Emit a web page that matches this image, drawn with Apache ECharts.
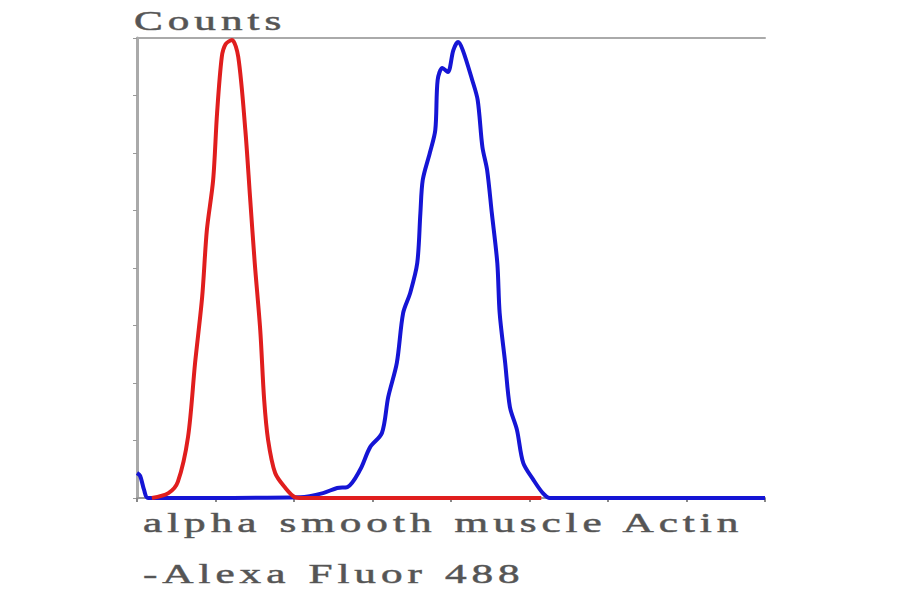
<!DOCTYPE html>
<html>
<head>
<meta charset="utf-8">
<script src="https://cdn.jsdelivr.net/npm/echarts@6/dist/echarts.min.js"></script>
<style>
  html, body { margin: 0; padding: 0; background: #fff; }
  #chart { width: 900px; height: 594px; }
  #chart text { letter-spacing: 3.1px; word-spacing: 1.5px; }
</style>
</head>
<body>
<div id="chart"></div>
<script>
// 直方图：红=对照，蓝=alpha SMA，x 为荧光通道 (0..8)，y 为计数
const xTicks = [0, 1, 2, 3, 4, 5, 6, 7, 8];
const yTitle = "Counts";
const xTitle1 = "alpha smooth muscle Actin";
const xTitle2 = "-Alexa Fluor 488";

const redX = [0.19, 0.40, 0.52, 0.65, 0.74, 0.83, 0.89, 0.97, 1.02, 1.08, 1.13, 1.21, 1.29, 1.38, 1.44, 1.50, 1.57, 1.62, 1.67, 1.76, 1.89, 2.01, 2.10, 5.15];
const redY = [0, 1.7, 5.6, 21.2, 47.0, 69.9, 93.2, 110.6, 133.9, 153.4, 157.9, 159.3, 153.4, 128.0, 104.7, 81.7, 58.4, 34.1, 20.2, 8.7, 3.5, 0.3, 0, 0];

const blueX = [0, 0.04, 0.09, 0.14, 2.08, 2.37, 2.55, 2.68, 2.84, 2.97, 3.12, 3.20, 3.31, 3.39, 3.48, 3.57, 3.61, 3.64, 3.73, 3.80, 3.83, 3.89, 3.96, 4.03, 4.09, 4.15, 4.27, 4.34, 4.40, 4.46, 4.52, 4.59, 4.62, 4.69, 4.75, 4.84, 4.92, 5.05, 5.17, 5.26, 8];
const blueY = [8.7, 7.7, 2.8, 0, 0.3, 1.7, 3.5, 3.8, 9.7, 17.7, 22.6, 35.1, 47.0, 64.3, 71.3, 81.7, 99.1, 110.6, 120.0, 128.0, 145.4, 149.6, 148.2, 155.8, 158.6, 155.8, 145.4, 138.4, 122.1, 114.1, 99.1, 81.7, 64.3, 47.0, 31.7, 23.7, 12.2, 6.3, 1.7, 0, 0];

const zip = (xs, ys) => xs.map((x, i) => [x, ys[i]]);

const chart = echarts.init(document.getElementById("chart"), null, { renderer: "svg" });
const font = '27px "Liberation Serif", serif';
const txt = (t, x, y) => ({
  type: "text", x: x, y: y, scaleX: 1.6,
  style: { text: t, font: font, fill: "#555", stroke: "#777", lineWidth: 0.6, verticalAlign: "middle" }
});

chart.setOption({
  animation: false,
  grid: { left: 137, right: 135, top: 38, bottom: 96 },
  xAxis: [{
    type: "value", min: xTicks[0], max: xTicks[xTicks.length - 1], interval: 1, position: "bottom",
    axisLine: { show: true, lineStyle: { color: "#999", width: 2 } },
    axisTick: { show: true, length: 4, lineStyle: { color: "#888", width: 2 } },
    axisLabel: { show: false }, splitLine: { show: false }
  }, {
    type: "value", min: xTicks[0], max: xTicks[xTicks.length - 1], position: "top",
    axisLine: { show: true, lineStyle: { color: "#aaa", width: 2 } },
    axisTick: { show: false }, axisLabel: { show: false }, splitLine: { show: false }
  }],
  yAxis: {
    type: "value", min: 0, max: 160, interval: 20,
    axisLine: { show: true, lineStyle: { color: "#aaa", width: 3 } },
    axisTick: { show: true, length: 4, lineStyle: { color: "#999", width: 1 } },
    axisLabel: { show: false }, splitLine: { show: false }
  },
  series: [{
    type: "line", data: zip(blueX, blueY), symbol: "none", smooth: 0.3,
    lineStyle: { color: "#1515d5", width: 4 }
  }, {
    type: "line", data: zip(redX, redY), symbol: "none", smooth: 0.3,
    lineStyle: { color: "#e01e1e", width: 4 }
  }],
  graphic: [
    txt(yTitle, 134, 21),
    txt(xTitle1, 143, 523),
    txt(xTitle2, 143, 574)
  ]
});
</script>
</body>
</html>
